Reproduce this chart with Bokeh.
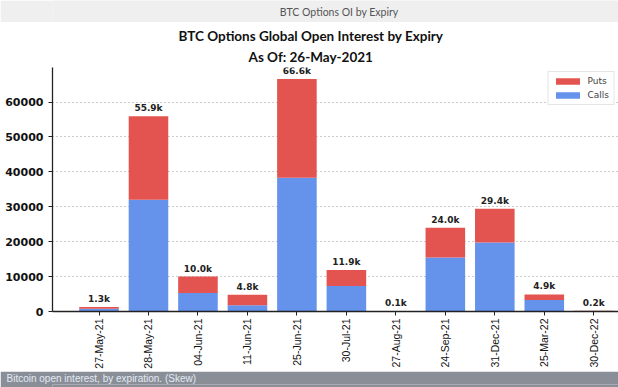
import math
from bokeh.plotting import figure
from bokeh.layouts import column
from bokeh.models import (ColumnDataSource, Range1d, FixedTicker, Label, Title,
                          Legend, LegendItem, NumeralTickFormatter)
from bokeh.core.properties import value
from bokeh.embed import file_html
from bokeh.resources import INLINE

header = "BTC Options OI by Expiry"
title_1 = "BTC Options Global Open Interest by Expiry"
title_2 = "As Of: 26-May-2021"
caption = "Bitcoin open interest, by expiration. (Skew)"

expiries = ["27-May-21", "28-May-21", "04-Jun-21", "11-Jun-21", "25-Jun-21", "30-Jul-21",
            "27-Aug-21", "24-Sep-21", "31-Dec-21", "25-Mar-22", "30-Dec-22"]
calls = [800, 32000, 5300, 1800, 38300, 7300, 30, 15500, 19800, 3300, 150]
puts = [500, 23900, 4700, 3000, 28300, 4600, 70, 8500, 9600, 1600, 50]
y_ticks = [0, 10000, 20000, 30000, 40000, 50000, 60000]

BLUE = "#6593EB"
RED = "#E35450"
W = 618
LB = 52  # left border shared by all stacked figures


def strip(height, bg):
    f = figure(width=W, height=height, output_backend="svg", toolbar_location=None,
               title=None, x_range=Range1d(-LB, W - LB), y_range=Range1d(0, 1),
               x_axis_location=None, y_axis_location=None,
               min_border_left=LB, min_border_right=0, min_border_top=0, min_border_bottom=0)
    f.grid.visible = False
    f.background_fill_color = bg
    f.border_fill_color = bg
    f.outline_line_color = None
    return f


head = strip(22, "#efefef")
head.add_layout(Label(x=313 - LB, y=0.5, text=header, text_align="center",
                      text_baseline="middle", text_font="Lato", text_font_size="10.5px",
                      text_color="#555555"))

foot = strip(16, "#8a8f97")
foot.add_layout(Title(text=caption, align="left", offset=6 - LB, standoff=0,
                      vertical_align="middle", text_font="Liberation Sans",
                      text_font_size="10px", text_font_style="normal",
                      text_line_height=1.0, text_color="#e2eaf5"), "above")

x = list(range(len(expiries)))
totals = [c + q for c, q in zip(calls, puts)]
labels = [f"{t / 1000:.1f}k" for t in totals]
src = ColumnDataSource(dict(x=x, calls=calls, puts=puts, total=totals, label=labels))

p = figure(width=W, height=349, output_backend="svg", toolbar_location=None, title=None,
           x_range=Range1d(-0.94, 10.5), y_range=Range1d(0, 69900),
           min_border_left=LB, min_border_right=0, min_border_top=45, min_border_bottom=40)
p.outline_line_color = None
p.background_fill_color = "white"
p.border_fill_color = "white"

p.add_layout(Title(text=title_2, align="left", offset=248 - LB, standoff=6,
                   text_font="Lato", text_font_style="bold", text_font_size="13.5px",
                   text_line_height=0.9, text_color="#111111"), "above")
p.add_layout(Title(text=title_1, align="left", offset=178 - LB, standoff=0,
                   text_font="Lato", text_font_style="bold", text_font_size="13.5px",
                   text_line_height=0.9, text_color="#111111"), "above")

rs = p.vbar_stack(["calls", "puts"], x="x", width=0.8, color=[BLUE, RED], source=src,
                  line_color=None)
p.text(x="x", y="total", text="label", source=src, text_align="center",
       text_baseline="bottom", y_offset=-3, text_font=value("DejaVu Sans"),
       text_font_style="bold", text_font_size="9px", text_color="#222222")

p.xaxis.ticker = FixedTicker(ticks=x)
p.xaxis.major_label_overrides = {i: e for i, e in enumerate(expiries)}
p.xaxis.major_label_orientation = math.pi / 2
p.xaxis.major_label_text_font = "Liberation Sans"
p.xaxis.major_label_text_font_size = "10.5px"
p.xaxis.major_label_standoff = 3
p.yaxis.ticker = FixedTicker(ticks=y_ticks)
p.yaxis.formatter = NumeralTickFormatter(format="0")
p.yaxis.major_label_text_font = "DejaVu Sans"
p.yaxis.major_label_text_font_style = "bold"
p.yaxis.major_label_text_font_size = "11px"
for ax in (p.xaxis, p.yaxis):
    ax.axis_line_color = "#222222"
    ax.axis_line_width = 1.3
    ax.major_tick_line_color = "#222222"
    ax.major_tick_out = 4
    ax.major_tick_in = 0
    ax.minor_tick_line_color = None
    ax.major_label_text_color = "#111111"
p.xgrid.visible = False
p.ygrid.ticker = FixedTicker(ticks=y_ticks)
p.ygrid.grid_line_color = "#9a9a9a"
p.ygrid.grid_line_dash = "1 3"

legend = Legend(items=[LegendItem(label="Puts", renderers=[rs[1]]),
                       LegendItem(label="Calls", renderers=[rs[0]])],
                location="top_right", label_text_font_size="9px",
                border_line_color="#cccccc", glyph_width=30, glyph_height=8,
                label_text_font="DejaVu Sans", margin=4, padding=4, spacing=4)
p.add_layout(legend)

layout = column(head, p, foot, spacing=0)
open("out.html", "w").write(file_html(layout, INLINE))
